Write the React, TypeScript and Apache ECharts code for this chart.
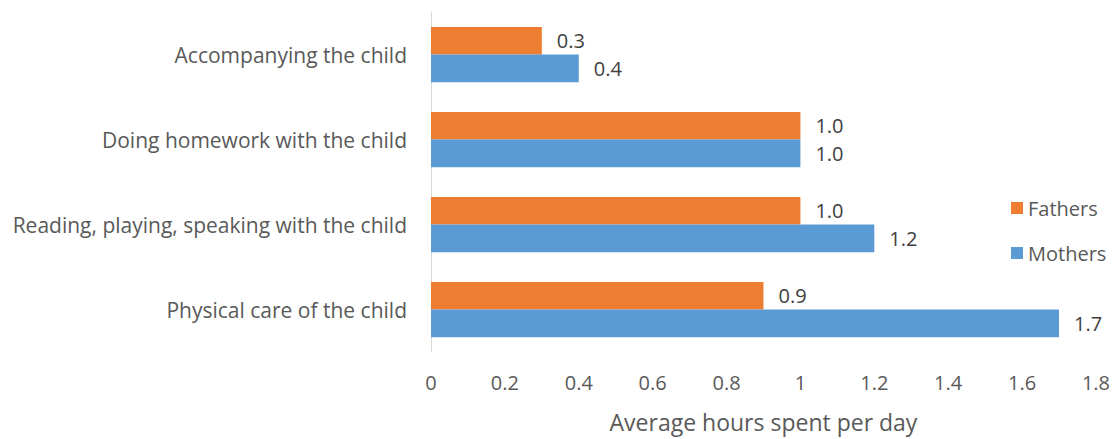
import React, { useEffect, useRef } from "react";
import * as echarts from "echarts";

const categories = [
  "Physical care of the child",
  "Reading, playing, speaking with the child",
  "Doing homework with the child",
  "Accompanying the child",
];
const mothers = [1.7, 1.2, 1.0, 0.4];
const fathers = [0.9, 1.0, 1.0, 0.3];
const xTicks = { min: 0, max: 1.8, interval: 0.2 };

const FONT = "'Open Sans', 'Noto Sans', sans-serif";

const valueLabel = {
  show: true,
  position: "right",
  distance: 15,
  fontFamily: FONT,
  fontSize: 20,
  color: "#404040",
  formatter: (p: any) => Number(p.value).toFixed(1),
};

export default function App() {
  const ref = useRef<HTMLDivElement>(null);
  useEffect(() => {
    if (!ref.current) return;
    const chart = echarts.init(ref.current, undefined, { renderer: "svg" });
    chart.setOption({
      animation: false,
      textStyle: { fontFamily: FONT },
      grid: { left: 431, top: 12, width: 668, height: 340, containLabel: false },
      legend: {
        orient: "vertical",
        left: 1006,
        top: 193,
        itemWidth: 12,
        itemHeight: 12,
        itemGap: 25,
        icon: "rect",
        data: ["Fathers", "Mothers"],
        textStyle: { fontFamily: FONT, fontSize: 20, color: "#595959" },
      },
      xAxis: {
        type: "value",
        min: xTicks.min,
        max: xTicks.max,
        interval: xTicks.interval,
        name: "Average hours spent per day",
        nameLocation: "middle",
        nameGap: 58,
        nameTextStyle: { fontFamily: FONT, fontSize: 23, color: "#595959" },
        axisLine: { show: false },
        axisTick: { show: false },
        splitLine: { show: false },
        axisLabel: {
          fontFamily: FONT,
          fontSize: 20,
          color: "#595959",
          margin: 20,
          formatter: (v: number) => String(Math.round(v * 10) / 10),
        },
      },
      yAxis: {
        type: "category",
        data: categories,
        axisLine: { show: true, lineStyle: { color: "#d9d9d9", width: 1 } },
        axisTick: { show: false },
        axisLabel: { fontFamily: FONT, fontSize: 21, color: "#595959", margin: 24 },
      },
      series: [
        {
          name: "Fathers",
          type: "bar",
          data: fathers,
          barGap: "0%",
          barCategoryGap: "35%",
          itemStyle: { color: "#ED7D31" },
          label: valueLabel,
        },
        {
          name: "Mothers",
          type: "bar",
          data: mothers,
          barGap: "0%",
          barCategoryGap: "35%",
          itemStyle: { color: "#5B9BD5" },
          label: valueLabel,
        },
      ],
    });
    return () => chart.dispose();
  }, []);
  return (
    <div
      ref={ref}
      style={{ position: "absolute", left: 0, top: 0, width: 1113, height: 439 }}
    />
  );
}
